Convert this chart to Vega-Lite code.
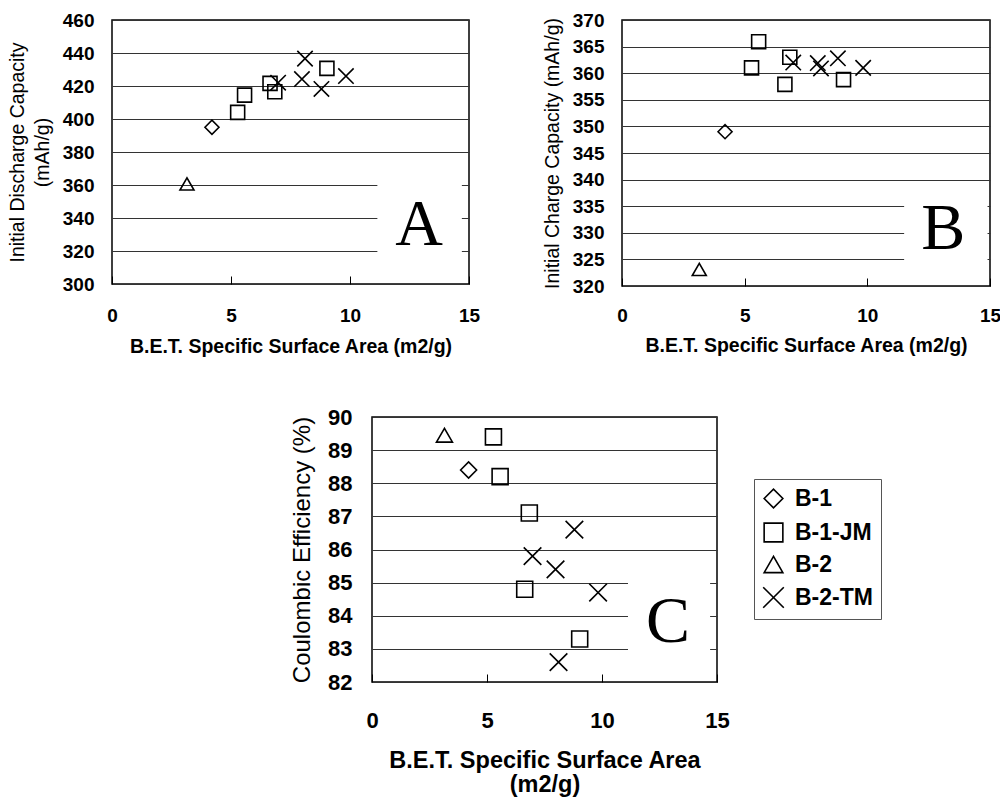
{
  "$schema": "https://vega.github.io/schema/vega-lite/v6.json",
  "background": "white",
  "padding": {"left": 6, "top": 10, "right": 5, "bottom": 5},
  "config": {
    "font": "Liberation Sans",
    "view": {"stroke": "black", "strokeWidth": 1.5},
    "axis": {"labelColor": "black", "titleColor": "black", "labelFlush": false, "labelOverlap": false},
    "axisX": {"grid": false, "domain": false, "tickSize": -8, "tickColor": "black", "tickWidth": 1},
    "axisY": {"grid": true, "gridColor": "#333333", "gridWidth": 1, "domain": false, "ticks": false}
  },
  "datasets": {
    "pts": [
      {"sample": "B-1", "bet": 4.2, "discharge": 395, "charge": 349, "eff": 88.4},
      {"sample": "B-2", "bet": 3.15, "discharge": 360.6, "charge": 323.1, "eff": 89.45},
      {"sample": "B-1-JM", "bet": 5.28, "discharge": 404, "charge": 361, "eff": 89.4},
      {"sample": "B-1-JM", "bet": 5.57, "discharge": 414.5, "charge": 365.9, "eff": 88.2},
      {"sample": "B-1-JM", "bet": 6.64, "discharge": 421.6, "charge": 357.9, "eff": 84.8},
      {"sample": "B-1-JM", "bet": 6.84, "discharge": 416.5, "charge": 363, "eff": 87.1},
      {"sample": "B-1-JM", "bet": 9.03, "discharge": 430.7, "charge": 358.8, "eff": 83.3},
      {"sample": "B-2-TM", "bet": 6.98, "discharge": 422, "charge": 362, "eff": 85.8},
      {"sample": "B-2-TM", "bet": 8.11, "discharge": 436.6, "charge": 360.9, "eff": 82.6},
      {"sample": "B-2-TM", "bet": 7.98, "discharge": 424.2, "charge": 361.9, "eff": 85.4},
      {"sample": "B-2-TM", "bet": 8.8, "discharge": 418.2, "charge": 362.8, "eff": 86.6},
      {"sample": "B-2-TM", "bet": 9.83, "discharge": 426, "charge": 361, "eff": 84.7}
    ]
  },
  "resolve": {"scale": {"x": "independent", "y": "independent", "shape": "independent"}, "legend": {"shape": "independent"}},
  "spacing": 48,
  "vconcat": [
    {
      "spacing": 60,
      "resolve": {"scale": {"x": "independent", "y": "independent", "shape": "independent"}, "legend": {"shape": "independent"}},
      "hconcat": [
        {
          "width": 357,
          "height": 264,
          "encoding": {
            "x": {"field": "bet", "type": "quantitative", "title": "B.E.T. Specific Surface Area (m2/g)",
              "scale": {"domain": [0, 15], "nice": false},
              "axis": {"values": [0, 5, 10, 15], "labelFontSize": 19, "labelFontWeight": "bold", "labelPadding": 30,
                "titleFontSize": 19.5, "titleFontWeight": "bold", "titlePadding": 12}},
            "y": {"field": "discharge", "type": "quantitative", "title": ["Initial Discharge Capacity", "(mAh/g)"],
              "scale": {"domain": [300, 460], "nice": false, "zero": false},
              "axis": {"values": [300, 320, 340, 360, 380, 400, 420, 440, 460], "labelFontSize": 19, "labelFontWeight": "bold",
                "labelPadding": 18, "titleFontSize": 19.5, "titleFontWeight": "normal", "titlePadding": 10, "titleLineHeight": 25}}
          },
          "layer": [
            {
              "data": {"values": [{"bet": 11.15, "bet2": 14.7, "discharge": 303, "discharge2": 370}]},
              "mark": {"type": "rect", "fill": "white"},
              "encoding": {"x2": {"field": "bet2"}, "y2": {"field": "discharge2"}}
            },
            {
              "data": {"name": "pts"},
              "mark": {"type": "point", "filled": false, "color": "black", "strokeWidth": 1.6, "size": 196, "opacity": 1},
              "encoding": {
                "shape": {"field": "sample", "type": "nominal",
                  "scale": {"domain": ["B-1", "B-1-JM", "B-2", "B-2-TM"], "range": ["diamond", "square", "triangle-up", "M-1.1,-1.1L1.1,1.1M-1.1,1.1L1.1,-1.1"]},
                  "legend": null}
              }
            },
            {
              "data": {"values": [{"letter": "A", "bet": 12.9, "discharge": 336}]},
              "mark": {"type": "text", "font": "Liberation Serif", "fontSize": 66, "color": "black", "align": "center", "baseline": "middle"},
              "encoding": {"text": {"field": "letter"}}
            }
          ]
        },
        {
          "width": 368,
          "height": 266,
          "encoding": {
            "x": {"field": "bet", "type": "quantitative", "title": "B.E.T. Specific Surface Area (m2/g)",
              "scale": {"domain": [0, 15], "nice": false},
              "axis": {"values": [0, 5, 10, 15], "labelFontSize": 19, "labelFontWeight": "bold", "labelPadding": 28,
                "titleFontSize": 19.5, "titleFontWeight": "bold", "titlePadding": 11}},
            "y": {"field": "charge", "type": "quantitative", "title": "Initial Charge Capacity (mAh/g)",
              "scale": {"domain": [320, 370], "nice": false, "zero": false},
              "axis": {"values": [320, 325, 330, 335, 340, 345, 350, 355, 360, 365, 370], "labelFontSize": 19, "labelFontWeight": "bold",
                "labelPadding": 18, "titleFontSize": 19.5, "titleFontWeight": "normal", "titlePadding": 10}}
          },
          "layer": [
            {
              "data": {"values": [{"bet": 11.5, "bet2": 14.9, "charge": 320.4, "charge2": 337}]},
              "mark": {"type": "rect", "fill": "white"},
              "encoding": {"x2": {"field": "bet2"}, "y2": {"field": "charge2"}}
            },
            {
              "data": {"name": "pts"},
              "mark": {"type": "point", "filled": false, "color": "black", "strokeWidth": 1.6, "size": 196, "opacity": 1},
              "encoding": {
                "shape": {"field": "sample", "type": "nominal",
                  "scale": {"domain": ["B-1", "B-1-JM", "B-2", "B-2-TM"], "range": ["diamond", "square", "triangle-up", "M-1.1,-1.1L1.1,1.1M-1.1,1.1L1.1,-1.1"]},
                  "legend": null}
              }
            },
            {
              "data": {"values": [{"letter": "B", "bet": 13.1, "charge": 330.7}]},
              "mark": {"type": "text", "font": "Liberation Serif", "fontSize": 66, "color": "black", "align": "center", "baseline": "middle"},
              "encoding": {"text": {"field": "letter"}}
            }
          ]
        }
      ]
    },
    {
      "spacing": 20,
      "resolve": {"scale": {"x": "independent", "y": "independent", "shape": "independent"}, "legend": {"shape": "independent"}},
      "hconcat": [
        {
          "width": 157,
          "height": 10,
          "view": {"stroke": null, "fill": "white"},
          "data": {"values": []},
          "mark": "point",
          "encoding": {}
        },
        {
          "width": 345,
          "height": 265,
          "encoding": {
            "x": {"field": "bet", "type": "quantitative", "title": ["B.E.T. Specific Surface Area", "(m2/g)"],
              "scale": {"domain": [0, 15], "nice": false},
              "axis": {"values": [0, 5, 10, 15], "labelFontSize": 22, "labelFontWeight": "bold", "labelPadding": 36,
                "titleFontSize": 23.5, "titleFontWeight": "bold", "titlePadding": 17, "titleLineHeight": 24}},
            "y": {"field": "eff", "type": "quantitative", "title": "Coulombic Efficiency (%)",
              "scale": {"domain": [82, 90], "nice": false, "zero": false},
              "axis": {"values": [82, 83, 84, 85, 86, 87, 88, 89, 90], "labelFontSize": 22, "labelFontWeight": "bold",
                "labelPadding": 20, "titleFontSize": 24, "titleFontWeight": "normal", "titlePadding": 13}}
          },
          "layer": [
            {
              "data": {"values": [{"bet": 11.13, "bet2": 14.7, "eff": 82.2, "eff2": 85.5}]},
              "mark": {"type": "rect", "fill": "white"},
              "encoding": {"x2": {"field": "bet2"}, "y2": {"field": "eff2"}}
            },
            {
              "data": {"name": "pts"},
              "mark": {"type": "point", "filled": false, "color": "black", "strokeWidth": 1.6, "size": 256, "opacity": 1},
              "encoding": {
                "shape": {"field": "sample", "type": "nominal",
                  "scale": {"domain": ["B-1", "B-1-JM", "B-2", "B-2-TM"], "range": ["diamond", "square", "triangle-up", "M-1.1,-1.1L1.1,1.1M-1.1,1.1L1.1,-1.1"]},
                  "legend": {"orient": "none", "legendX": 382, "legendY": 62, "title": null, "strokeColor": "#555555", "padding": 8,
                    "labelFontSize": 23, "labelFontWeight": "bold", "labelColor": "black", "symbolSize": 350, "symbolStrokeWidth": 1.6,
                    "symbolStrokeColor": "black", "rowPadding": 7, "labelOffset": 10}}
              }
            },
            {
              "data": {"values": [{"letter": "C", "bet": 12.87, "eff": 83.8}]},
              "mark": {"type": "text", "font": "Liberation Serif", "fontSize": 66, "color": "black", "align": "center", "baseline": "middle"},
              "encoding": {"text": {"field": "letter"}}
            }
          ]
        }
      ]
    }
  ]
}
